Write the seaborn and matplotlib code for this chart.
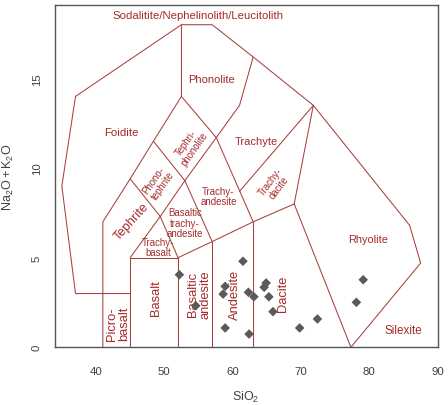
import matplotlib
matplotlib.use("Agg")
import matplotlib.pyplot as plt
import seaborn as sns
import pandas as pd

# ---- sample data (SiO2 vs total alkali) ----
sio2 = [52.2, 54.6, 61.5, 58.9, 58.6, 62.3, 63.1, 64.9, 64.6, 65.3, 65.9,
        58.9, 62.4, 69.8, 72.4, 78.1, 79.1]
alkali = [4.05, 2.32, 4.80, 3.40, 2.97, 3.07, 2.82, 3.59, 3.35, 2.82, 1.99,
          1.08, 0.74, 1.08, 1.58, 2.51, 3.77]

# ---- TAS field boundaries (SiO2, Na2O+K2O vertices of each polyline) ----
outer_x = [45, 37, 35, 37, 52.5, 57, 63, 71.8, 85.9, 87.5, 77.3]
outer_y = [3, 3, 9, 14, 18, 18, 16.2, 13.5, 6.8, 4.7, 0]
foid_x = [41, 41, 45, 48.4, 52.5, 52.5]
foid_y = [0, 7, 9.4, 11.5, 14, 18]
basalt_x = [45, 45, 52, 52]
basalt_y = [0, 5, 5, 0]
alkline_x = [45, 49.4, 53, 57.6, 61, 63]
alkline_y = [5, 7.3, 9.3, 11.7, 13.5, 16.2]
subalk_x = [52, 57, 63, 69, 77.3]
subalk_y = [5, 5.9, 7, 8, 0]
seg_x = [[57, 57], [63, 63], [49.4, 52], [45, 49.4], [48.4, 53], [52.5, 57.6],
         [53, 57], [57.6, 63], [69, 71.8], [61, 71.8]]
seg_y = [[0, 5.9], [0, 7], [7.3, 5], [9.4, 7.3], [11.5, 9.3], [14, 11.7],
         [9.3, 5.9], [11.7, 7], [8, 13.5], [8.7, 13.5]]

# ---- field names ----
field_names = ["Sodalitite/Nephelinolith/Leucitolith", "Phonolite", "Foidite",
               "Trachyte", "Tephri-\nphonolite", "Phono-\ntephrite", "Tephrite",
               "Trachy-\nandesite", "Basaltic\ntrachy-\nandesite", "Trachy-\nbasalt",
               "Trachy-\ndacite", "Rhyolite", "Silexite", "Picro-\nbasalt", "Basalt",
               "Basaltic\nandesite", "Andesite", "Dacite"]
name_x = [54.9, 56.9, 43.7, 63.5, 53.8, 49.1, 45.2, 57.9, 53.0, 49.1,
          66.2, 79.8, 85.0, 43.25, 48.75, 55.1, 60.3, 67.3]
name_y = [18.55, 14.95, 12.0, 11.5, 11.3, 9.2, 7.05, 8.45, 6.95, 5.6,
          9.1, 6.05, 0.95, 1.35, 2.8, 3.0, 3.0, 3.05]
name_rot = [0, 0, 0, 0, 55, 55, 48, 0, 0, 0, 53, 0, 0, 90, 90, 90, 90, 90]
name_size = [8.2, 8.0, 8.2, 8.0, 6.9, 6.9, 9.3, 6.9, 6.9, 6.9,
             6.9, 7.9, 8.4, 9.3, 9.3, 9.3, 9.3, 9.3]

xticks = [40, 50, 60, 70, 80, 90]
yticks = [0, 5, 10, 15]

sns.set_style("white")
plt.rcParams["font.family"] = ["Liberation Sans", "DejaVu Sans"]
plt.rcParams["mathtext.fontset"] = "custom"
plt.rcParams["mathtext.rm"] = "Liberation Sans"
plt.rcParams["mathtext.it"] = "Liberation Sans"

W, H = 448, 406
fig = plt.figure(figsize=(W / 100, H / 100), dpi=100)
ax = fig.add_axes([55 / W, 1 - 348.3 / H, (437.7 - 55) / W, (348.3 - 6) / H])

line_col = "#A8403C"
text_col = "#A52A2A"
lw = 0.75

ax.plot(outer_x, outer_y, color=line_col, lw=lw)
ax.plot(foid_x, foid_y, color=line_col, lw=lw)
ax.plot(basalt_x, basalt_y, color=line_col, lw=lw)
ax.plot(alkline_x, alkline_y, color=line_col, lw=lw)
ax.plot(subalk_x, subalk_y, color=line_col, lw=lw)
for sx, sy in zip(seg_x, seg_y):
    ax.plot(sx, sy, color=line_col, lw=lw)

for t, x, y, r, s in zip(field_names, name_x, name_y, name_rot, name_size):
    ax.text(x, y, t, rotation=r, fontsize=s, color=text_col, ha="center",
            va="center", multialignment="center", linespacing=1.05,
            rotation_mode="anchor")

df = pd.DataFrame({"SiO2": sio2, "alk": alkali})
sns.scatterplot(data=df, x="SiO2", y="alk", marker="D", s=24, color="#5A5A5A",
                edgecolor="none", ax=ax, zorder=5)

ax.set_xlim(34, 90)
ax.set_ylim(0, 19.1)
ax.set_xticks(xticks)
ax.set_yticks(yticks)
ax.set_xlabel("")
ax.set_ylabel("")
for sp in ax.spines.values():
    sp.set_color("#555555")
    sp.set_linewidth(1.0)
ax.tick_params(axis="both", which="both", length=4.5, width=1.0, color="#555555",
               labelsize=8.2, labelcolor="#404040", direction="out")
ax.tick_params(axis="x", pad=9)
ax.tick_params(axis="y", pad=5)
for lab in ax.get_yticklabels():
    lab.set_rotation(90)
    lab.set_va("center")

fig.text(8 / W, 1 - 177 / H, r"$\mathregular{Na_2O + K_2O}$", rotation=90,
         ha="center", va="center", fontsize=9, color="#404040")
fig.text(246 / W, 1 - 405 / H, r"$\mathregular{SiO_2}$", ha="center", va="bottom",
         fontsize=9, color="#404040")

fig.savefig("out.png", dpi=100, facecolor="white")
